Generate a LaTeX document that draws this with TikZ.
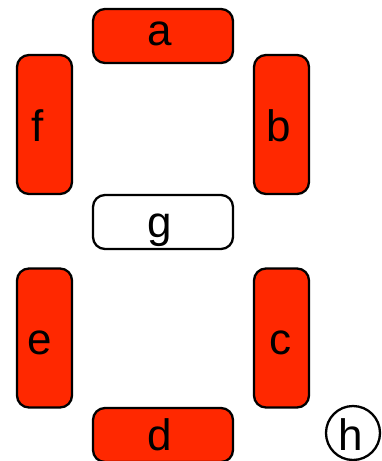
\documentclass[tikz,border=0pt]{standalone}
\usepackage{fontspec}
\setmainfont{Liberation Sans}
\definecolor{segred}{HTML}{FF2800}
\begin{document}
\begin{tikzpicture}[x=1pt,y=-1pt,
  hseg/.style={draw=black,line width=2.3pt,rounded corners=12pt,fill=segred,
    minimum width=140pt,minimum height=54pt,inner sep=0pt},
  vseg/.style={draw=black,line width=2.3pt,rounded corners=12pt,fill=segred,
    minimum width=55pt,minimum height=139pt,inner sep=0pt},
  lbl/.style={inner sep=0pt,anchor=base,font=\fontsize{44}{44}\selectfont}]
\useasboundingbox (0,0) rectangle (381,461);
\node[hseg] (sa) at (163,36) {};
\node[vseg] (sf) at (44.5,124.5) {};
\node[vseg] (sb) at (281.5,124.5) {};
\node[hseg,fill=white] (sg) at (163,222) {};
\node[vseg] (se) at (44.5,338) {};
\node[vseg] (sc) at (281.5,338) {};
\node[hseg] (sd) at (163,435) {};
\node[draw=black,line width=2.3pt,circle,minimum size=54pt,inner sep=0pt] (sh) at (353,433) {};
\node[lbl] (la) at (160,45) {a};
\node[lbl] (lf) at (38,141) {f};
\node[lbl] (lb) at (279,141) {b};
\node[lbl] (lg) at (160,237) {g};
\node[lbl] (le) at (40,354) {e};
\node[lbl] (lc) at (280,354) {c};
\node[lbl] (ld) at (160,450) {d};
\node[lbl] (lh) at (351,450) {h};
\end{tikzpicture}
\end{document}
